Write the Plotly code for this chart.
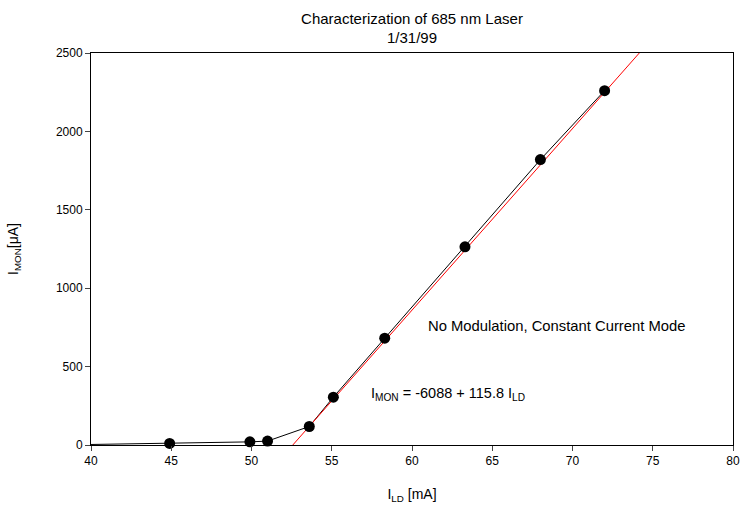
import plotly.graph_objects as go

x_ld = [44.9, 49.9, 51.0, 53.6, 55.1, 58.3, 63.3, 68.0, 72.0]
i_mon = [10, 20, 25, 118, 305, 681, 1264, 1820, 2260]
line_start_x = 38.0
line_start_y = 0
fit_a = -6088
fit_b = 115.8
fit_x = [52.0, 75.0]
fit_y = [fit_a + fit_b * v for v in fit_x]

x_ticks = [40, 45, 50, 55, 60, 65, 70, 75, 80]
y_ticks = [0, 500, 1000, 1500, 2000, 2500]

fig = go.Figure()
fig.add_trace(go.Scatter(x=[line_start_x] + x_ld, y=[line_start_y] + i_mon, mode="lines",
                         line=dict(color="black", width=1), showlegend=False))
fig.add_trace(go.Scatter(x=fit_x, y=fit_y, mode="lines",
                         line=dict(color="#ff0000", width=1), showlegend=False))
fig.add_trace(go.Scatter(x=x_ld, y=i_mon, mode="markers",
                         marker=dict(color="black", size=11), showlegend=False, cliponaxis=False))

font = dict(family="Arial, Liberation Sans, sans-serif", color="black")
fig.update_layout(
    width=742, height=508,
    margin=dict(l=91, r=9, t=53, b=63),
    plot_bgcolor="white", paper_bgcolor="white",
    font=dict(size=12, **font),
    title=dict(text="Characterization of 685 nm Laser<br>1/31/99", x=0.5, xanchor="center",
               xref="paper", yref="container", y=0.953, yanchor="middle",
               font=dict(size=15, **font)),
)
fig.update_xaxes(range=[40, 80], tickvals=x_ticks, ticks="outside", ticklen=5,
                 showline=True, linecolor="black", linewidth=1, mirror=True,
                 showgrid=False, zeroline=False, automargin=False,
                 title=dict(text="I<sub>LD</sub> [mA]", font=dict(size=14, **font), standoff=21))
fig.update_yaxes(range=[0, 2500], tickvals=y_ticks, ticks="outside", ticklen=5,
                 showline=True, linecolor="black", linewidth=1, mirror=True,
                 showgrid=False, zeroline=False, automargin=False,
                 title=dict(text="I<sub>MON</sub>[μA]", font=dict(size=14, **font), standoff=33))
fig.add_annotation(x=60.87, y=762, text="No Modulation, Constant Current Mode", showarrow=False,
                   xanchor="left", yanchor="middle", font=dict(size=14.8, **font))
fig.add_annotation(x=57.3, y=324, text="I<sub>MON</sub> = -6088 + 115.8 I<sub>LD</sub>", showarrow=False,
                   xanchor="left", yanchor="middle", font=dict(size=14.5, **font))
fig.write_html(
    "out.html",
    config={"displayModeBar": False},
    post_script="document.body.style.margin='0';document.body.style.overflow='hidden';"
                "document.documentElement.style.overflow='hidden';",
)
